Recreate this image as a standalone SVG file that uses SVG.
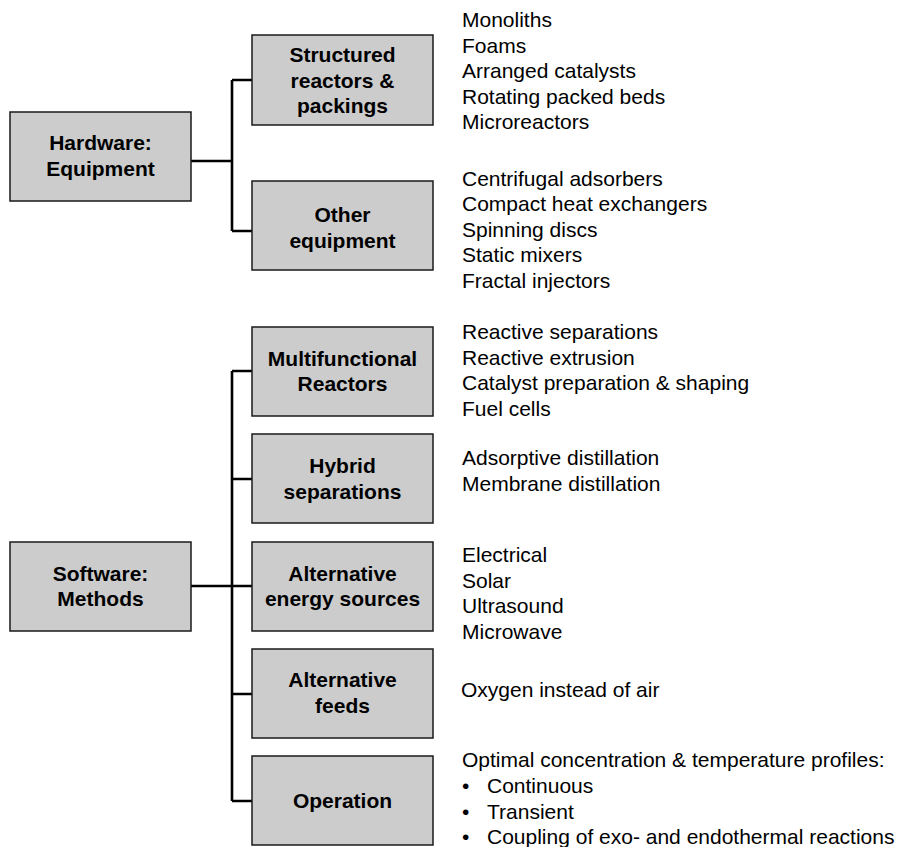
<svg xmlns="http://www.w3.org/2000/svg" width="902" height="847" viewBox="0 0 902 847">
  <style>
    .box { fill: #cccccc; stroke: #1a1a1a; stroke-width: 1.5; }
    .lbl { font-family: "Liberation Sans", Arial, Helvetica, sans-serif; font-size: 21px; font-weight: bold; fill: #000; text-anchor: middle; }
    .item { font-family: "Liberation Sans", Arial, Helvetica, sans-serif; font-size: 21px; fill: #000; }
    .link { fill: none; stroke: #000; stroke-width: 2.6; stroke-linejoin: miter; }
  </style>
  <rect width="902" height="847" fill="#ffffff"/>

  <!-- connectors -->
  <g id="connectors">
    <path class="link" d="M191,161 H232 M232,80 V231 M232,80 H252 M232,231 H252"/>
    <path class="link" d="M191,586 H252 M232,371 V801 M232,371 H252 M232,479 H252 M232,694 H252 M232,801 H252"/>
  </g>

  <!-- top-level categories -->
  <g id="hardware">
    <rect class="box" x="10" y="112" width="181" height="89"/>
    <text class="lbl" x="100.5" y="150">Hardware:</text>
    <text class="lbl" x="100.5" y="175.5">Equipment</text>
  </g>
  <g id="software">
    <rect class="box" x="10" y="542" width="181" height="89"/>
    <text class="lbl" x="100.5" y="580.5">Software:</text>
    <text class="lbl" x="100.5" y="606">Methods</text>
  </g>

  <!-- equipment branches -->
  <g id="structured">
    <rect class="box" x="252" y="35" width="181" height="90"/>
    <text class="lbl" x="342.5" y="62">Structured</text>
    <text class="lbl" x="342.5" y="87.5">reactors &amp;</text>
    <text class="lbl" x="342.5" y="112.5">packings</text>
  </g>
  <g id="structured-items">
    <text class="item" x="462" y="27">Monoliths</text>
    <text class="item" x="462" y="52.5">Foams</text>
    <text class="item" x="462" y="78">Arranged catalysts</text>
    <text class="item" x="462" y="103.5">Rotating packed beds</text>
    <text class="item" x="462" y="129">Microreactors</text>
  </g>

  <g id="other-equipment">
    <rect class="box" x="252" y="181" width="181" height="89"/>
    <text class="lbl" x="342.5" y="221.5">Other</text>
    <text class="lbl" x="342.5" y="247.5">equipment</text>
  </g>
  <g id="other-items">
    <text class="item" x="462" y="185.5">Centrifugal adsorbers</text>
    <text class="item" x="462" y="211">Compact heat exchangers</text>
    <text class="item" x="462" y="236.5">Spinning discs</text>
    <text class="item" x="462" y="262">Static mixers</text>
    <text class="item" x="462" y="287.5">Fractal injectors</text>
  </g>

  <!-- method branches -->
  <g id="multifunctional">
    <rect class="box" x="252" y="327" width="181" height="89"/>
    <text class="lbl" x="342.5" y="365.5">Multifunctional</text>
    <text class="lbl" x="342.5" y="391">Reactors</text>
  </g>
  <g id="multifunctional-items">
    <text class="item" x="462" y="339">Reactive separations</text>
    <text class="item" x="462" y="364.5">Reactive extrusion</text>
    <text class="item" x="462" y="390">Catalyst preparation &amp; shaping</text>
    <text class="item" x="462" y="415.5">Fuel cells</text>
  </g>

  <g id="hybrid">
    <rect class="box" x="252" y="434" width="181" height="89"/>
    <text class="lbl" x="342.5" y="473">Hybrid</text>
    <text class="lbl" x="342.5" y="499">separations</text>
  </g>
  <g id="hybrid-items">
    <text class="item" x="462" y="465">Adsorptive distillation</text>
    <text class="item" x="462" y="490.5">Membrane distillation</text>
  </g>

  <g id="energy">
    <rect class="box" x="252" y="542" width="181" height="89"/>
    <text class="lbl" x="342.5" y="580.5">Alternative</text>
    <text class="lbl" x="342.5" y="606">energy sources</text>
  </g>
  <g id="energy-items">
    <text class="item" x="462" y="562">Electrical</text>
    <text class="item" x="462" y="587.5">Solar</text>
    <text class="item" x="462" y="613">Ultrasound</text>
    <text class="item" x="462" y="638.5">Microwave</text>
  </g>

  <g id="feeds">
    <rect class="box" x="252" y="649" width="181" height="89"/>
    <text class="lbl" x="342.5" y="687">Alternative</text>
    <text class="lbl" x="342.5" y="712.5">feeds</text>
  </g>
  <g id="feeds-items">
    <text class="item" x="461" y="697">Oxygen instead of air</text>
  </g>

  <g id="operation">
    <rect class="box" x="252" y="756" width="181" height="89"/>
    <text class="lbl" x="342.5" y="807.5">Operation</text>
  </g>
  <g id="operation-items">
    <text class="item" x="462" y="767">Optimal concentration &amp; temperature profiles:</text>
    <text class="item" x="462" y="793">•</text>
    <text class="item" x="487" y="793">Continuous</text>
    <text class="item" x="462" y="818.5">•</text>
    <text class="item" x="487" y="818.5">Transient</text>
    <text class="item" x="462" y="844">•</text>
    <text class="item" x="487" y="844">Coupling of exo- and endothermal reactions</text>
  </g>
</svg>
